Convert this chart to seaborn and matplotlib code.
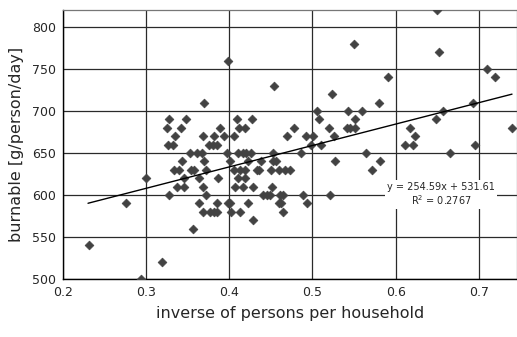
import numpy as np
import pandas as pd
import seaborn as sns
import matplotlib.pyplot as plt

# inverse of persons per household (x) and burnable waste (y)
inv_persons = [
    0.650, 0.550, 0.652, 0.398, 0.710, 0.591, 0.720, 0.454, 0.523,
    0.370, 0.580, 0.693,
    0.505, 0.543, 0.560, 0.657,
    0.328, 0.348, 0.409, 0.427, 0.508, 0.551, 0.649,
    0.325, 0.342, 0.389, 0.412, 0.419, 0.478, 0.520, 0.541, 0.545, 0.551, 0.617, 0.740,
    0.335, 0.368, 0.381, 0.393, 0.406, 0.469, 0.492, 0.501, 0.526, 0.623,
    0.326, 0.332, 0.375, 0.380, 0.385, 0.498, 0.510, 0.611, 0.621, 0.696,
    0.353, 0.361, 0.367, 0.397, 0.410, 0.416, 0.420, 0.426, 0.452, 0.486, 0.564, 0.665,
    0.343, 0.370, 0.401, 0.422, 0.438, 0.452, 0.456, 0.527, 0.581,
    0.333, 0.339, 0.354, 0.358, 0.372, 0.405, 0.413, 0.419, 0.433, 0.436, 0.450, 0.460, 0.467, 0.473, 0.572,
    0.300, 0.346, 0.363, 0.386, 0.410, 0.419,
    0.337, 0.345, 0.368, 0.407, 0.416, 0.429, 0.451,
    0.327, 0.372, 0.440, 0.445, 0.449, 0.461, 0.465, 0.488, 0.521,
    0.276, 0.363, 0.385, 0.398, 0.401, 0.422, 0.460, 0.462, 0.493,
    0.368, 0.377, 0.381, 0.385, 0.402, 0.413, 0.465,
    0.429, 0.356, 0.231, 0.319, 0.294,
]
burnable = (
    [820, 780, 770, 760, 750, 740, 740, 730, 720]
    + [710] * 3
    + [700] * 4
    + [690] * 7
    + [680] * 12
    + [670] * 10
    + [660] * 10
    + [650] * 12
    + [640] * 9
    + [630] * 15
    + [620] * 6
    + [610] * 7
    + [600] * 9
    + [590] * 9
    + [580] * 7
    + [570, 560, 540, 520, 500]
)

# trend line as printed on the chart
slope, intercept, r2 = 254.59, 531.61, 0.2767
line_x = [0.23, 0.74]

x_ticks = [0.2, 0.3, 0.4, 0.5, 0.6, 0.7]
y_ticks = [500, 550, 600, 650, 700, 750, 800]

df = pd.DataFrame({'x': inv_persons, 'y': burnable})

sns.set_style('white')
plt.rcParams['font.family'] = ['DejaVu Sans']

fig = plt.figure(figsize=(5.17, 3.37), dpi=100)
ax = fig.add_axes([0.122, 0.172, 0.878, 0.798])

sns.scatterplot(data=df, x='x', y='y', marker='D', s=20, color='#424242',
                edgecolor='#424242', linewidth=0.5, ax=ax, zorder=3, clip_on=True)

lx = np.array(line_x)
ax.plot(lx, slope * lx + intercept, color='black', lw=1.0, zorder=4)

ax.text(0.655, 601, f'y = {slope}x + {intercept}\nR$^2$ = {r2}', ha='center', va='center',
        fontsize=7, family=['Liberation Sans Narrow', 'DejaVu Sans'], linespacing=1.1,
        bbox=dict(facecolor='white', edgecolor='none', pad=1.5), zorder=5)

ax.set_xlim(0.2, 0.746)
ax.set_ylim(500, 820)
ax.set_xticks(x_ticks)
ax.set_yticks(y_ticks)
ax.set_xticklabels([f'{v:.1f}' for v in x_ticks])
ax.grid(True, color='#2a2a2a', lw=0.9)
ax.set_axisbelow(True)
ax.tick_params(labelsize=9, length=0, pad=5)

for side in ['top', 'right']:
    ax.spines[side].set_color('#777777')
    ax.spines[side].set_linewidth(0.9)
for side in ['left', 'bottom']:
    ax.spines[side].set_color('black')
    ax.spines[side].set_linewidth(1.0)

ax.set_xlabel('inverse of persons per household', fontsize=11.5, labelpad=5)
ax.set_ylabel('burnable [g/person/day]', fontsize=11.5, labelpad=6)

plt.savefig('out.png', dpi=100)
